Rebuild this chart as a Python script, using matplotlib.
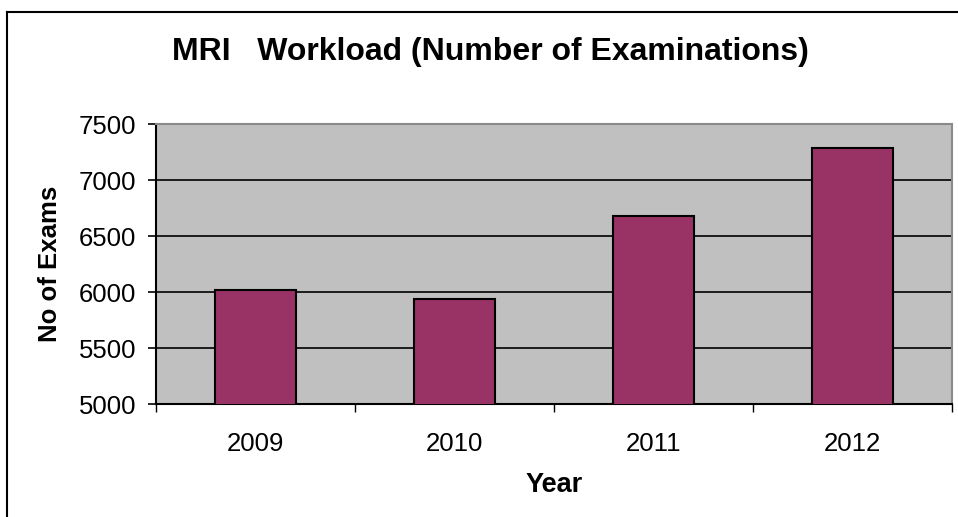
import matplotlib.pyplot as plt
from matplotlib.lines import Line2D

plt.rcParams['font.family'] = ['Liberation Sans', 'DejaVu Sans']

years = ['2009', '2010', '2011', '2012']
exams = [6022, 5938, 6675, 7288]
y_ticks = [5000, 5500, 6000, 6500, 7000, 7500]


def main():
    fig = plt.figure(figsize=(9.58, 5.17), dpi=100)
    ax = fig.add_axes([156 / 958, 1 - 404 / 517, (952 - 156) / 958, (404 - 124) / 517])
    ax.set_facecolor('#C0C0C0')

    x = range(len(years))
    ax.bar(x, exams, width=0.41, color='#993366', edgecolor='black', linewidth=1.5, zorder=3)

    ax.set_xlim(-0.5, len(years) - 0.5)
    ax.set_ylim(5000, 7500)
    ax.set_yticks(y_ticks)
    ax.set_yticklabels([str(v) for v in y_ticks])
    ax.yaxis.grid(True, color='black', linewidth=1.2, zorder=1)
    ax.set_axisbelow(True)

    # category ticks sit between bars, labels centred on bars
    ax.set_xticks([i - 0.5 for i in range(len(years) + 1)])
    ax.set_xticklabels([''] * (len(years) + 1))
    ax.set_xticks(list(x), minor=True)
    ax.set_xticklabels(years, minor=True)
    ax.tick_params(axis='x', which='major', length=6, width=1, direction='out')
    ax.tick_params(axis='x', which='minor', length=0, pad=20, labelsize=18.5)
    ax.tick_params(axis='y', length=6, width=1.2, pad=8, labelsize=18.5)

    for side in ['left', 'bottom']:
        ax.spines[side].set_color('black')
        ax.spines[side].set_linewidth(1.5)
    for side in ['top', 'right']:
        ax.spines[side].set_color('#8a8a8a')
        ax.spines[side].set_linewidth(1.5)

    ax.set_ylabel('No of Exams', fontsize=18.5, fontweight='bold', labelpad=12)
    ax.set_xlabel('Year', fontsize=19.5, fontweight='bold', labelpad=12)
    fig.text(490 / 958, 1 - 52 / 517, 'MRI   Workload (Number of Examinations)',
             fontsize=23, fontweight='bold', ha='center', va='center')

    # chart frame (left and top edges visible)
    fig.add_artist(Line2D([7 / 958, 7 / 958], [0, 1 - 12 / 517], transform=fig.transFigure,
                          color='black', linewidth=1.5))
    fig.add_artist(Line2D([7 / 958, 1], [1 - 12 / 517, 1 - 12 / 517], transform=fig.transFigure,
                          color='black', linewidth=1.5))

    fig.savefig('out.png', dpi=100)


if __name__ == '__main__':
    main()
